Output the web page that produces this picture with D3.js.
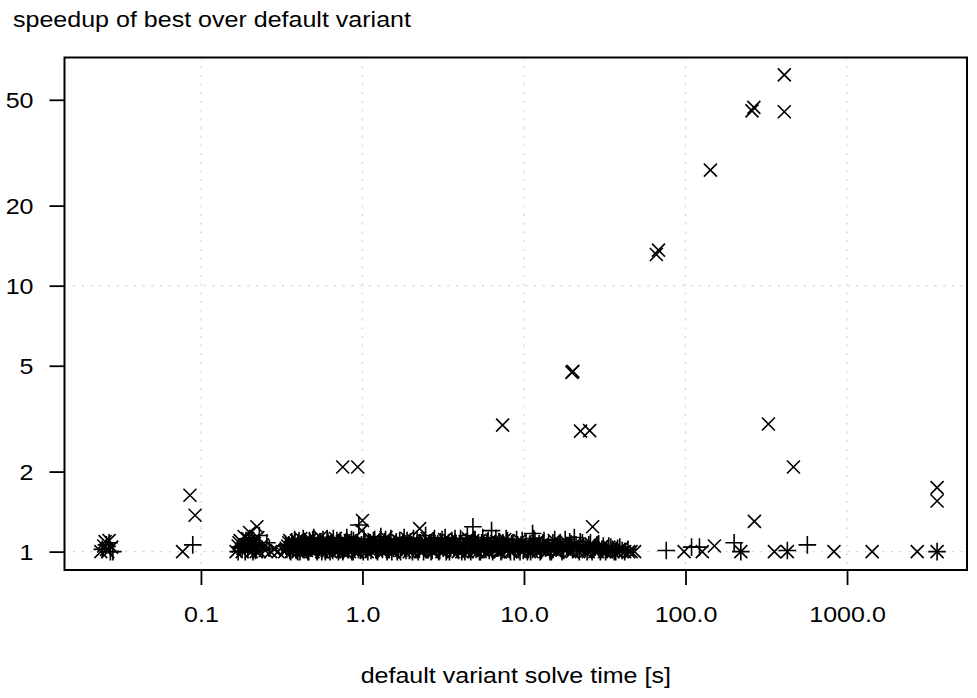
<!DOCTYPE html>
<html><head><meta charset="utf-8">
<script src="https://cdn.jsdelivr.net/npm/d3@7"></script>
<style>
body{margin:0;background:#fff;}
svg{display:block;}
text{font-family:"Liberation Sans",Arial,Helvetica,sans-serif;font-size:21.4px;fill:#000;}
</style></head>
<body>
<svg id="chart" width="977" height="698"></svg>
<script>
// ---- data ----
const xLimits = [0.0143, 5530];
const yLimits = [0.853, 72.1];
const xTicks = [0.1, 1, 10, 100, 1000];
const xTickLabels = ["0.1", "1.0", "10.0", "100.0", "1000.0"];
const yTicks = [1, 2, 5, 10, 20, 50];
const yTickLabels = ["1", "2", "5", "10", "20", "50"];
const xGrid = [0.1, 1, 10, 100, 1000];
const yGrid = [1, 10];

// pch 3 (+) points: [default time, speedup]
const plusPoints = [
  [0.0245,1.02],[0.026,1.06],[0.0275,1.0],[0.0285,1.0],[0.027,1.08],
  [0.089,1.06],
  [0.17,1.0],[0.18,1.03],[0.185,1.07],[0.19,1.1],[0.195,1.02],[0.2,1.12],[0.205,1.05],[0.21,1.0],
  [0.215,1.08],[0.22,1.04],[0.23,1.15],[0.24,1.02],[0.256,1.08],[0.265,1.03],
  [0.175,1.04],[0.188,1.0],[0.198,1.08],[0.208,1.13],[0.218,1.01],[0.226,1.06],
  [0.95,1.26],[4.83,1.24],[6.3,1.2],[11.3,1.17],
  [76,1.01],[109,1.04],[122,1.04],[200,1.08],[220,1.0],[427,1.01],[568,1.06],[3610,1.0]
];
const plusBand = [
  [0.34,1.02],[0.35,1.06],[0.36,1.0],[0.365,1.09],[0.37,1.03],[0.38,1.11],[0.39,1.01],[0.395,1.05],
  [0.40,1.08],[0.41,1.0],[0.42,1.04],[0.43,1.12],[0.44,1.02],[0.445,1.07],[0.46,1.0],[0.47,1.1],
  [0.48,1.03],[0.49,1.06],[0.50,1.13],[0.52,1.01],[0.53,1.08],[0.54,1.04],[0.56,1.0],[0.57,1.11],
  [0.58,1.05],[0.60,1.02],[0.61,1.09],[0.63,1.0],[0.64,1.06],[0.66,1.12],[0.67,1.03],[0.69,1.07],
  [0.71,1.0],[0.73,1.1],[0.74,1.04],[0.76,1.01],[0.78,1.08],[0.80,1.13],[0.82,1.02],[0.84,1.06],
  [0.86,1.0],[0.88,1.1],[0.90,1.04],[0.93,1.07],[0.97,1.01],
  [1.02,1.12],[1.05,1.03],[1.08,1.0],[1.12,1.08],[1.15,1.05],[1.19,1.11],[1.22,1.01],[1.26,1.06],
  [1.30,1.14],[1.33,1.02],[1.37,1.09],[1.42,1.0],[1.46,1.05],[1.50,1.12],[1.55,1.03],[1.60,1.07],
  [1.64,1.0],[1.70,1.1],[1.75,1.04],[1.81,1.13],[1.86,1.01],[1.92,1.06],[1.98,1.09],[2.04,1.0],
  [2.10,1.05],[2.18,1.11],[2.25,1.02],[2.31,1.07],[2.39,1.0],[2.46,1.15],[2.55,1.04],[2.62,1.08],
  [2.70,1.01],[2.79,1.12],[2.88,1.05],[2.97,1.0],[3.05,1.09],[3.16,1.03],[3.25,1.13],[3.36,1.06],
  [3.46,1.0],[3.58,1.1],[3.68,1.04],[3.80,1.07],[3.93,1.01],[4.05,1.12],[4.19,1.05],[4.31,1.0],
  [4.46,1.15],[4.60,1.03],[4.75,1.08],[4.90,1.11],[5.05,1.02],[5.22,1.06],[5.38,1.0],[5.56,1.13],
  [5.72,1.04],[5.92,1.09],[6.1,1.01],[6.5,1.06],[6.7,1.12],[6.9,1.03],[7.2,1.0],[7.4,1.08],
  [7.6,1.05],[7.9,1.1],[8.1,1.02],[8.4,1.07],[8.7,1.0],[9.0,1.11],[9.3,1.04],[9.6,1.06],[9.9,1.01],
  [10.3,1.09],[10.7,1.03],[11.0,1.0],[11.5,1.12],[11.9,1.05],[12.4,1.07],[12.8,1.01],[13.3,1.1],
  [13.9,1.04],[14.5,1.0],[15.1,1.08],[15.8,1.03],[16.5,1.06],[17.2,1.0],[18.0,1.11],[18.8,1.04],
  [19.6,1.07],[20.5,1.13],[21.5,1.02],[22.3,1.09],[23.4,1.05],[24.6,1.0],[25.8,1.08],[27.0,1.03],
  [28.3,1.06],[29.7,1.0],[31.0,1.05],[32.6,1.02],[34.5,1.04],[36.2,1.0],[38.0,1.03],[40.5,1.01],[44.0,1.02]
];
const plusBand2 = [
  [0.335,1.05],[0.355,1.01],[0.368,1.07],[0.385,1.04],[0.398,1.0],[0.405,1.1],[0.418,1.06],[0.428,1.02],
  [0.438,1.08],[0.452,1.04],[0.465,1.0],[0.478,1.07],[0.492,1.11],[0.51,1.05],[0.525,1.0],[0.545,1.09],
  [0.555,1.03],[0.575,1.06],[0.59,1.0],[0.605,1.12],[0.625,1.04],[0.645,1.08],[0.655,1.01],[0.675,1.05],
  [0.695,1.1],[0.715,1.03],[0.735,1.07],[0.755,1.0],[0.775,1.04],[0.795,1.09],[0.815,1.02],[0.835,1.06],
  [0.855,1.11],[0.875,1.0],[0.895,1.05],[0.915,1.08],[0.945,1.02],[0.985,1.06],
  [1.01,1.0],[1.035,1.09],[1.065,1.04],[1.095,1.07],[1.13,1.01],[1.17,1.1],[1.205,1.05],[1.24,1.0],
  [1.28,1.08],[1.32,1.03],[1.355,1.06],[1.39,1.11],[1.44,1.02],[1.48,1.07],[1.52,1.0],[1.57,1.05],
  [1.62,1.09],[1.67,1.03],[1.72,1.0],[1.78,1.07],[1.84,1.04],[1.89,1.1],[1.95,1.01],[2.01,1.06],
  [2.07,1.12],[2.14,1.03],[2.21,1.0],[2.28,1.08],[2.35,1.05],[2.43,1.1],[2.5,1.02],[2.58,1.06],
  [2.66,1.0],[2.75,1.09],[2.84,1.04],[2.92,1.07],[3.01,1.01],[3.11,1.11],[3.2,1.05],[3.3,1.0],
  [3.41,1.08],[3.52,1.03],[3.63,1.06],[3.74,1.12],[3.86,1.02],[3.99,1.07],[4.12,1.0],[4.25,1.05],
  [4.38,1.09],[4.53,1.03],[4.68,1.0],[4.82,1.07],[4.98,1.11],[5.13,1.04],[5.3,1.0],[5.47,1.08],
  [5.64,1.05],[5.82,1.02],[6.0,1.1],[6.2,1.04],[6.4,1.0],[6.6,1.07],[6.8,1.03],[7.05,1.09],
  [7.3,1.01],[7.5,1.06],[7.75,1.12],[8.0,1.04],[8.25,1.0],[8.55,1.08],[8.85,1.03],[9.15,1.06],
  [9.45,1.0],[9.75,1.1],
  [10.1,1.04],[10.5,1.0],[10.9,1.07],[11.3,1.02],[11.7,1.1],[12.2,1.05],[12.6,1.0],[13.1,1.08],
  [13.6,1.03],[14.2,1.06],[14.8,1.0],[15.5,1.11],[16.1,1.04],[16.8,1.07],[17.6,1.01],[18.4,1.05],
  [19.2,1.09],[20.0,1.02],[21.0,1.06],[22.0,1.0],[23.0,1.08],[24.0,1.03],[25.2,1.06],[26.4,1.0],
  [27.6,1.04],[29.0,1.07],[30.3,1.02],[32.0,1.0],[33.5,1.05],[35.3,1.02],[37.0,1.0],[39.2,1.04],[42.0,1.0]
];

// pch 4 (x) points
const crossPoints = [
  [0.024,1.0],[0.025,1.05],[0.0255,1.09],[0.026,1.02],[0.027,1.1],[0.0265,1.0],[0.028,1.04],
  [0.077,1.0],[0.0855,1.63],[0.092,1.37],
  [0.165,1.0],[0.17,1.05],[0.175,1.1],[0.18,1.0],[0.185,1.14],[0.19,1.06],[0.2,1.18],[0.205,1.0],
  [0.21,1.1],[0.215,1.03],[0.222,1.24],[0.225,1.13],[0.23,1.0],[0.24,1.06],[0.25,1.01],[0.27,1.0],
  [0.285,1.02],[0.3,1.0],[0.172,1.08],[0.182,1.03],[0.195,1.12],[0.202,1.04],[0.212,1.07],[0.22,1.0],
  [0.755,2.08],[0.935,2.08],[1.0,1.31],[2.26,1.22],[7.37,2.99],[19.8,4.72],[20.1,4.76],[22.4,2.84],
  [25.5,2.85],[26.6,1.24],[48.4,1.0],[66,13.1],[68,13.6],[98,1.0],[127,1.0],[151,1.05],[142.6,27.2],
  [220,1.0],[258,45.4],[265,46.8],[267,1.3],[326,3.02],[355,1.0],[409,45.1],[409,62],[427,1.0],
  [466,2.08],[830,1.0],[1430,1.0],[2720,1.0],[3610,1.0],[3610,1.74],[3610,1.55]
];
const crossBand = [
  [0.33,1.0],[0.345,1.05],[0.355,1.1],[0.375,1.02],[0.385,1.07],[0.40,1.0],[0.415,1.12],[0.425,1.04],
  [0.435,1.08],[0.45,1.01],[0.465,1.06],[0.475,1.11],[0.49,1.0],[0.505,1.04],[0.515,1.09],[0.53,1.02],
  [0.55,1.13],[0.565,1.0],[0.585,1.06],[0.595,1.1],[0.62,1.03],[0.635,1.0],[0.65,1.08],[0.68,1.12],
  [0.70,1.01],[0.72,1.05],[0.75,1.0],[0.77,1.1],[0.79,1.03],[0.81,1.07],[0.83,1.0],[0.87,1.11],
  [0.89,1.04],[0.92,1.0],[0.95,1.08],[0.99,1.2],
  [1.04,1.02],[1.10,1.06],[1.14,1.0],[1.18,1.11],[1.24,1.04],[1.29,1.08],[1.35,1.0],[1.40,1.13],
  [1.47,1.03],[1.53,1.0],[1.58,1.07],[1.66,1.1],[1.73,1.01],[1.79,1.05],[1.88,1.12],[1.95,1.0],
  [2.02,1.06],[2.12,1.09],[2.22,1.02],[2.35,1.0],[2.44,1.07],[2.52,1.12],[2.66,1.03],[2.75,1.0],
  [2.85,1.09],[3.0,1.05],[3.1,1.0],[3.22,1.11],[3.4,1.03],[3.52,1.07],[3.63,1.0],[3.86,1.1],
  [3.98,1.04],[4.12,1.0],[4.38,1.08],[4.52,1.12],[4.68,1.02],[4.95,1.0],[5.12,1.06],[5.3,1.1],
  [5.6,1.01],[5.8,1.05],[6.05,1.0],[6.4,1.09],[6.6,1.03],[6.95,1.0],[7.3,1.07],[7.6,1.11],
  [8.0,1.02],[8.5,1.0],[8.9,1.06],[9.4,1.1],[9.8,1.0],
  [10.5,1.04],[11.2,1.0],[11.8,1.08],[12.6,1.02],[13.6,1.0],[14.2,1.06],[15.4,1.1],[16.2,1.0],
  [17.6,1.04],[18.5,1.08],[19.9,1.0],[21.0,1.05],[22.8,1.02],[24.0,1.0],[26.0,1.07],[27.5,1.0],
  [29.0,1.03],[31.5,1.0],[33.5,1.04],[35.5,1.0],[39.0,1.02],[42.0,1.0],[46.0,1.0]
];
const crossBand2 = [
  [0.338,1.03],[0.35,1.08],[0.362,1.0],[0.372,1.05],[0.39,1.1],[0.402,1.03],[0.41,1.07],[0.422,1.0],
  [0.44,1.05],[0.455,1.09],[0.47,1.02],[0.485,1.06],[0.495,1.0],[0.51,1.11],[0.535,1.04],[0.545,1.07],
  [0.56,1.0],[0.575,1.03],[0.6,1.08],[0.615,1.01],[0.64,1.05],[0.66,1.1],[0.675,1.0],[0.705,1.06],
  [0.73,1.03],[0.76,1.08],[0.785,1.0],[0.805,1.05],[0.84,1.1],[0.86,1.02],[0.9,1.06],[0.94,1.0],[0.97,1.04],
  [1.02,1.08],[1.07,1.0],[1.12,1.05],[1.16,1.09],[1.21,1.02],[1.27,1.06],[1.32,1.0],[1.38,1.1],
  [1.44,1.04],[1.5,1.07],[1.56,1.0],[1.62,1.03],[1.69,1.09],[1.76,1.05],[1.83,1.0],[1.91,1.07],
  [1.99,1.02],[2.07,1.1],[2.17,1.04],[2.28,1.0],[2.4,1.06],[2.48,1.03],[2.58,1.09],[2.7,1.0],
  [2.8,1.05],[2.93,1.02],[3.05,1.08],[3.16,1.0],[3.3,1.05],[3.46,1.1],[3.58,1.02],[3.75,1.06],
  [3.92,1.0],[4.05,1.08],[4.25,1.03],[4.45,1.0],[4.6,1.06],[4.82,1.1],[5.03,1.02],[5.2,1.0],
  [5.45,1.07],[5.7,1.04],[5.92,1.0],[6.2,1.06],[6.5,1.02],[6.8,1.09],[7.1,1.0],[7.45,1.04],
  [7.8,1.07],[8.25,1.0],[8.7,1.03],[9.1,1.08],[9.6,1.01],
  [10.2,1.06],[10.8,1.0],[11.5,1.03],[12.2,1.09],[13.0,1.02],[13.9,1.0],[14.8,1.05],[15.8,1.0],
  [16.9,1.07],[18.0,1.02],[19.2,1.0],[20.4,1.06],[21.8,1.0],[23.2,1.04],[25.0,1.0],[26.8,1.03],
  [28.5,1.0],[30.5,1.05],[32.5,1.0],[34.8,1.02],[37.5,1.0],[40.5,1.03],[44.5,1.0]
];

// ---- layout ----
const svg = d3.select("#chart");
const L = 64.5, R = 967, T = 57.5, B = 570;
const sx = 1.17; // horizontal stretch of the lettering
const x = d3.scaleLog().domain(xLimits).range([L, R]);
const y = d3.scaleLog().domain(yLimits).range([B, T]);

// grid
const grid = svg.append("g").attr("stroke", "#cfcfcf").attr("stroke-width", 1.2)
  .attr("stroke-dasharray", "1.8,6.9");
grid.selectAll(".gx").data(xGrid).enter().append("line")
  .attr("x1", d => x(d)).attr("x2", d => x(d)).attr("y1", T).attr("y2", B);
grid.selectAll(".gy").data(yGrid).enter().append("line")
  .attr("y1", d => y(d)).attr("y2", d => y(d)).attr("x1", L).attr("x2", R);

// points
const hx = 6.5, hp = 8.8;
const crossPath = `M${-hx},${-hx}L${hx},${hx}M${-hx},${hx}L${hx},${-hx}`;
const plusPath = `M${-hp},0L${hp},0M0,${-hp}L0,${hp}`;
const pts = svg.append("g").attr("stroke", "#000").attr("stroke-width", 1.6).attr("fill", "none");
pts.selectAll(".pb").data(plusBand.concat(plusBand2, plusPoints)).enter().append("path")
  .attr("d", plusPath).attr("transform", d => `translate(${x(d[0])},${y(d[1])})`);
pts.selectAll(".cb").data(crossBand.concat(crossBand2, crossPoints)).enter().append("path")
  .attr("d", crossPath).attr("transform", d => `translate(${x(d[0])},${y(d[1])})`);

// box
svg.append("rect").attr("x", L).attr("y", T).attr("width", R - L).attr("height", B - T)
  .attr("fill", "none").attr("stroke", "#000").attr("stroke-width", 2);

// x axis
const xa = svg.append("g").attr("transform", `translate(0,${B})`)
  .call(d3.axisBottom(x).tickValues(xTicks).tickSize(15).tickFormat((d, i) => xTickLabels[i]));
xa.select(".domain").remove();
xa.selectAll("line").attr("stroke", "#000").attr("stroke-width", 1.8);
xa.selectAll("text").attr("font-size", 21.4).attr("font-family", null).attr("fill", "#000")
  .attr("y", null).attr("dy", null).attr("text-anchor", "middle")
  .attr("transform", `translate(0,51.5) scale(${sx},1)`);

// y axis
const ya = svg.append("g").attr("transform", `translate(${L},0)`)
  .call(d3.axisLeft(y).tickValues(yTicks).tickSize(15).tickFormat((d, i) => yTickLabels[i]));
ya.select(".domain").remove();
ya.selectAll("line").attr("stroke", "#000").attr("stroke-width", 1.8);
ya.selectAll("text").attr("font-size", 21.4).attr("font-family", null).attr("fill", "#000")
  .attr("x", null).attr("dy", "0.36em").attr("text-anchor", "end")
  .attr("transform", `translate(-31,0) scale(${sx},1)`);

// titles
svg.append("text").attr("transform", `translate(13,27) scale(${sx},1)`)
  .text("speedup of best over default variant");
svg.append("text").attr("transform", `translate(${(L + R) / 2},682.5) scale(${sx},1)`)
  .attr("text-anchor", "middle").text("default variant solve time [s]");
</script>
</body></html>
